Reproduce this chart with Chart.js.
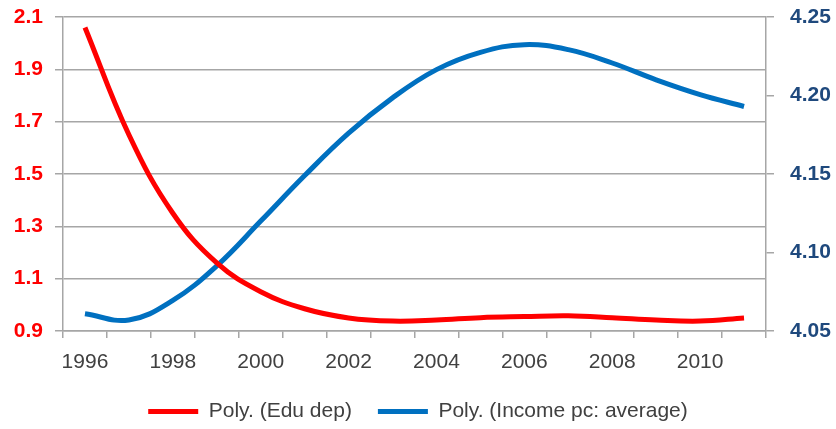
<!DOCTYPE html>
<html>
<head>
<meta charset="utf-8">
<script src="https://cdn.jsdelivr.net/npm/chart.js@4/dist/chart.umd.min.js"></script>
<style>
  html, body { margin: 0; padding: 0; background: #fff; }
  #wrap { width: 836px; height: 429px; }
</style>
</head>
<body>
<div id="wrap"><canvas id="chart" width="836" height="429"></canvas></div>
<script>
const years = ['1996', '1997', '1998', '1999', '2000', '2001', '2002', '2003',
  '2004', '2005', '2006', '2007', '2008', '2009', '2010', '2011'];
const eduDep = [2.06, 1.65, 1.35, 1.16, 1.05, 0.985, 0.95, 0.938,
  0.942, 0.951, 0.955, 0.958, 0.951, 0.942, 0.938, 0.95];
const incomeAvg = [4.061, 4.057, 4.0695, 4.0915, 4.120, 4.149, 4.176, 4.1985,
  4.2165, 4.2275, 4.2324, 4.2292, 4.2207, 4.210, 4.2006, 4.193];

const leftTicks = { min: 0.9, max: 2.1, step: 0.2 };
const rightTicks = { min: 4.05, max: 4.25, step: 0.05 };

const RED = '#ff0000';
const BLUE = '#0070c0';
const GRID = '#a6a6a6';
const FONT = '"Liberation Sans", Arial, sans-serif';

// fixed axis widths; drop the label overhang so the plot starts at the top padding
function fixY(width) {
  return (s) => {
    s.width = width;
    s.paddingTop = 0;
    s.paddingBottom = 0;
  };
}

new Chart(document.getElementById('chart'), {
  type: 'line',
  data: {
    labels: years,
    datasets: [
      {
        label: 'Poly. (Edu dep)',
        data: eduDep,
        yAxisID: 'y',
        borderColor: RED,
        backgroundColor: RED,
        borderWidth: 5,
        pointRadius: 0,
        tension: 0.4,
        fill: false,
      },
      {
        label: 'Poly. (Income pc: average)',
        data: incomeAvg,
        yAxisID: 'y2',
        borderColor: BLUE,
        backgroundColor: BLUE,
        borderWidth: 5,
        pointRadius: 0,
        tension: 0.4,
        fill: false,
      },
    ],
  },
  options: {
    responsive: false,
    animation: false,
    layout: { padding: { top: 17, left: 0, right: 0, bottom: 0 } },
    scales: {
      x: {
        type: 'category',
        offset: true,
        afterFit: (s) => { s.height = 44; },
        grid: { offset: true, drawOnChartArea: false, drawTicks: true, tickLength: 7, color: GRID, lineWidth: 1.5 },
        border: { color: GRID, width: 1.5 },
        ticks: {
          autoSkip: false,
          maxRotation: 0,
          padding: 12,
          color: '#404040',
          font: { family: FONT, size: 21 },
          callback: (v, i) => (i % 2 === 0 ? years[i] : ''),
        },
      },
      y: {
        position: 'left',
        min: leftTicks.min,
        max: leftTicks.max,
        afterFit: fixY(63),
        grid: { color: GRID, lineWidth: 1.5, tickLength: 8 },
        border: { color: GRID, width: 1.5 },
        ticks: {
          stepSize: leftTicks.step,
          padding: 12,
          color: RED,
          font: { family: FONT, size: 21, weight: 'bold' },
          callback: (v) => Number(v).toFixed(1),
        },
      },
      y2: {
        position: 'right',
        min: rightTicks.min,
        max: rightTicks.max,
        afterFit: fixY(70),
        grid: { drawOnChartArea: false, color: GRID, lineWidth: 1.5, tickLength: 8 },
        border: { color: GRID, width: 1.5 },
        ticks: {
          stepSize: rightTicks.step,
          padding: 16,
          color: '#1f497d',
          font: { family: FONT, size: 21, weight: 'bold' },
          callback: (v) => Number(v).toFixed(2),
        },
      },
    },
    plugins: {
      legend: {
        position: 'bottom',
        maxHeight: 54,
        labels: {
          usePointStyle: true,
          pointStyle: 'line',
          pointStyleWidth: 50,
          padding: 26,
          color: '#404040',
          font: { family: FONT, size: 21 },
        },
      },
      tooltip: { enabled: false },
    },
  },
});
</script>
</body>
</html>
